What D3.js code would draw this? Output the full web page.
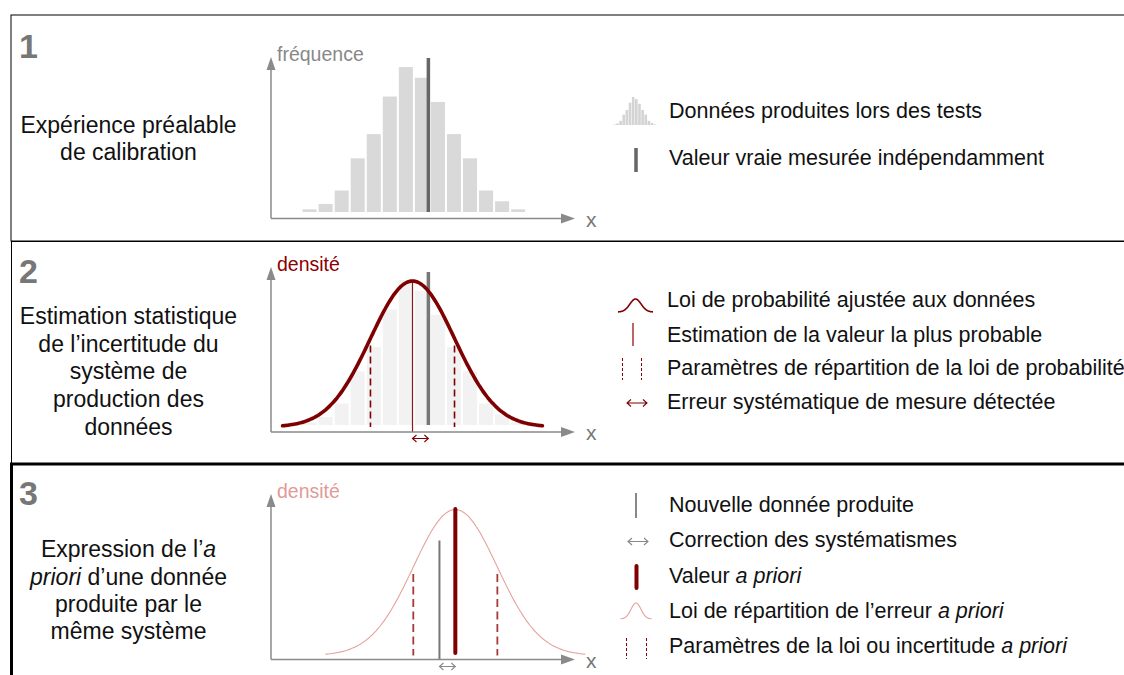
<!DOCTYPE html>
<html>
<head>
<meta charset="utf-8">
<script src="https://cdn.jsdelivr.net/npm/d3@7"></script>
<style>
  body { margin: 0; background: #fff; }
  svg { display: block; font-family: "Liberation Sans", Arial, sans-serif; }
</style>
</head>
<body>
<div id="chart"></div>
<script>
// histogram of the calibration tests (frequency per bin)
const binCounts = [1, 3, 8, 20, 29, 43, 54, 50, 41, 29, 20, 8, 4, 1];
// values on the x axis (bin units)
const trueValue = 7.86;      // valeur vraie mesurée indépendamment
const fitMean = 6.87;        // estimation de la valeur la plus probable
const fitSigma = 2.62;       // paramètre de répartition
const newValue = 8.55;       // nouvelle donnée produite
const curveSpan = 8.1;       // half width of the drawn curve

const panelNumbers = ["1", "2", "3"];
const panelTexts = [
  [["Expérience préalable"], ["de calibration"]],
  [["Estimation statistique"], ["de l\u2019incertitude du"], ["système de"], ["production des"], ["données"]],
  [["Expression de l\u2019", "a"], ["priori", " d\u2019une donnée"], ["produite par le"], ["même système"]]
];
const axisLabels = ["fréquence", "densité", "densité"];
const legend1 = [["Données produites lors des tests"], ["Valeur vraie mesurée indépendamment"]];
const legend2 = [["Loi de probabilité ajustée aux données"], ["Estimation de la valeur la plus probable"],
                 ["Paramètres de répartition de la loi de probabilité"], ["Erreur systématique de mesure détectée"]];
const legend3 = [["Nouvelle donnée produite"], ["Correction des systématismes"], ["Valeur ", "a priori"],
                 ["Loi de répartition de l\u2019erreur ", "a priori"], ["Paramètres de la loi ou incertitude ", "a priori"]];

const W = 1124, H = 675;
const svg = d3.select("#chart").append("svg").attr("width", W).attr("height", H);
svg.append("rect").attr("width", W).attr("height", H).attr("fill", "#fff");

const DARK = "#7f0000", LIGHT = "#e6a29c", AXIS = "#8a8a8a";
const correctedValue = newValue + (trueValue - fitMean);
const pdf = v => Math.exp(-0.5 * Math.pow(v / fitSigma, 2));

// panel frames
svg.append("rect").attr("x", 11).attr("y", 15).attr("width", 1200).attr("height", 226)
  .attr("fill", "none").attr("stroke", "#000").attr("stroke-width", 1);
svg.append("rect").attr("x", 11.5).attr("y", 241.5).attr("width", 1200).attr("height", 222)
  .attr("fill", "none").attr("stroke", "#000").attr("stroke-width", 1);
svg.append("rect").attr("x", 11.5).attr("y", 464).attr("width", 1200).attr("height", 300)
  .attr("fill", "none").attr("stroke", "#000").attr("stroke-width", 3);

// numbers and left texts
const numY = [58, 283, 505];
const textY = [[133, 160], [324, 352, 379, 407, 435], [557, 585, 612, 639]];
panelNumbers.forEach((n, i) => {
  svg.append("text").attr("x", 19).attr("y", numY[i]).text(n)
    .attr("font-size", 34).attr("font-weight", "bold").attr("fill", "#777");
  panelTexts[i].forEach((line, j) => {
    const t = svg.append("text").attr("x", 128.5).attr("y", textY[i][j])
      .attr("text-anchor", "middle").attr("font-size", 23).attr("fill", "#111");
    line.forEach((part, k) => {
      const italic = (i === 2 && ((j === 0 && k === 1) || (j === 1 && k === 0)));
      t.append("tspan").text(part).attr("font-style", italic ? "italic" : "normal");
    });
  });
});

// shared x scale
const x = d3.scaleLinear().domain([-1.95, 17]).range([271, 575]);

function drawAxes(axisY, tipY, label, labelColor) {
  const g = svg.append("g");
  g.append("line").attr("x1", x(-1.95)).attr("x2", x(17) - 10).attr("y1", axisY).attr("y2", axisY)
    .attr("stroke", AXIS).attr("stroke-width", 1.5);
  g.append("line").attr("x1", x(-1.95)).attr("x2", x(-1.95)).attr("y1", axisY).attr("y2", tipY + 10)
    .attr("stroke", AXIS).attr("stroke-width", 1.5);
  g.append("path").attr("fill", AXIS)
    .attr("d", `M${x(17)},${axisY} L${x(17) - 14},${axisY - 5} L${x(17) - 14},${axisY + 5} Z`);
  g.append("path").attr("fill", AXIS)
    .attr("d", `M${x(-1.95)},${tipY} L${x(-1.95) - 4.5},${tipY + 13} L${x(-1.95) + 4.5},${tipY + 13} Z`);
  g.append("text").attr("x", x(17) + 11).attr("y", axisY + 8).text("x")
    .attr("font-size", 21).attr("fill", "#777");
  g.append("text").attr("x", x(-1.95) + 6).attr("y", tipY + 4).text(label)
    .attr("font-size", 19.5).attr("fill", labelColor);
}

function dblArrow(g, x1, x2, yy, color) {
  g.append("path").attr("fill", "none").attr("stroke", color).attr("stroke-width", 1.1)
    .attr("d", `M${x1},${yy} L${x2},${yy} M${x1 + 4},${yy - 3.5} L${x1},${yy} L${x1 + 4},${yy + 3.5}` +
               ` M${x2 - 4},${yy - 3.5} L${x2},${yy} L${x2 - 4},${yy + 3.5}`);
}

function curvePath(mean, xs, ys) {
  const pts = d3.range(-curveSpan, curveSpan + 0.001, 0.1).map(d => [mean + d, pdf(d)]);
  return d3.line().x(d => xs(d[0])).y(d => ys(d[1])).curve(d3.curveBasis)(pts);
}

// ---------- panel 1 ----------
{
  const y = d3.scaleLinear().domain([0, 54]).range([212, 67]);
  const g = svg.append("g");
  g.selectAll("rect").data(binCounts).enter().append("rect")
    .attr("x", (d, i) => x(i) + 0.3).attr("width", x(1) - x(0) - 2)
    .attr("y", d => y(d)).attr("height", d => y(0) - y(d)).attr("fill", "#d9d9d9");
  g.append("line").attr("x1", x(trueValue)).attr("x2", x(trueValue)).attr("y1", 58).attr("y2", y(0))
    .attr("stroke", "#666").attr("stroke-width", 3.5);
  drawAxes(218.5, 57, axisLabels[0], "#888");
}

// ---------- panel 2 ----------
{
  const yb = d3.scaleLinear().domain([0, 54]).range([425, 280]);
  const yd = d3.scaleLinear().domain([0, 1]).range([427, 281]);
  const g = svg.append("g");
  g.selectAll("rect").data(binCounts).enter().append("rect")
    .attr("x", (d, i) => x(i) + 0.3).attr("width", x(1) - x(0) - 2)
    .attr("y", d => yb(d)).attr("height", d => yb(0) - yb(d)).attr("fill", "#f2f2f2");
  [fitMean - fitSigma, fitMean + fitSigma].forEach(v => {
    g.append("line").attr("x1", x(v)).attr("x2", x(v)).attr("y1", yd(pdf(fitSigma)) + 7).attr("y2", yd(0))
      .attr("stroke", DARK).attr("stroke-width", 1.6).attr("stroke-dasharray", "7,4");
  });
  g.append("line").attr("x1", x(fitMean)).attr("x2", x(fitMean)).attr("y1", yd(1)).attr("y2", 432)
    .attr("stroke", "#8b1a1a").attr("stroke-width", 1.2);
  g.append("line").attr("x1", x(trueValue)).attr("x2", x(trueValue)).attr("y1", 272).attr("y2", 425)
    .attr("stroke", "#777").attr("stroke-width", 3.5);
  g.append("path").attr("d", curvePath(fitMean, x, yd)).attr("fill", "none")
    .attr("stroke", DARK).attr("stroke-width", 3.6).attr("stroke-linecap", "round");
  dblArrow(g, x(fitMean), x(trueValue), 438.5, DARK);
  drawAxes(432, 267, axisLabels[1], "#8b0000");
}

// ---------- panel 3 ----------
{
  const yd = d3.scaleLinear().domain([0, 1]).range([655.5, 509.5]);
  const g = svg.append("g");
  g.append("path").attr("d", curvePath(correctedValue, x, yd)).attr("fill", "none")
    .attr("stroke", LIGHT).attr("stroke-width", 1.1);
  [correctedValue - fitSigma, correctedValue + fitSigma].forEach(v => {
    g.append("line").attr("x1", x(v)).attr("x2", x(v)).attr("y1", yd(pdf(fitSigma)) + 7).attr("y2", yd(0))
      .attr("stroke", "#a83a3a").attr("stroke-width", 1.8).attr("stroke-dasharray", "8,4.5");
  });
  g.append("line").attr("x1", x(newValue)).attr("x2", x(newValue)).attr("y1", 540.5).attr("y2", 659)
    .attr("stroke", "#777").attr("stroke-width", 2);
  g.append("line").attr("x1", x(correctedValue)).attr("x2", x(correctedValue)).attr("y1", 509).attr("y2", 653)
    .attr("stroke", DARK).attr("stroke-width", 4).attr("stroke-linecap", "round");
  dblArrow(g, x(newValue), x(correctedValue), 666.5, "#888");
  drawAxes(659.5, 494, axisLabels[2], "#e29a98");
}

// ---------- legends ----------
function legendText(line, tx, ty) {
  const t = svg.append("text").attr("x", tx).attr("y", ty).attr("font-size", 21.5).attr("fill", "#111");
  line.forEach((part, k) => t.append("tspan").text(part).attr("font-style", k === 1 ? "italic" : "normal"));
}

// legend 1
{
  const lx = d3.scaleLinear().domain([0, 14]).range([613, 657]);
  const ly = d3.scaleLinear().domain([0, 54]).range([125, 97]);
  svg.append("g").selectAll("rect").data(binCounts).enter().append("rect")
    .attr("x", (d, i) => lx(i)).attr("width", lx(1) - lx(0) - 0.5)
    .attr("y", d => ly(d)).attr("height", d => ly(0) - ly(d)).attr("fill", "#d4d4d4");
  svg.append("line").attr("x1", 636).attr("x2", 636).attr("y1", 148).attr("y2", 172)
    .attr("stroke", "#666").attr("stroke-width", 3.5);
  [118, 165].forEach((ty, i) => legendText(legend1[i], 669, ty));
}

// legend 2
{
  const lx = d3.scaleLinear().domain([fitMean - curveSpan, fitMean + curveSpan]).range([618, 653]);
  const ly = d3.scaleLinear().domain([0, 1]).range([312, 299]);
  svg.append("path").attr("d", curvePath(fitMean, lx, ly)).attr("fill", "none")
    .attr("stroke", DARK).attr("stroke-width", 1.6);
  svg.append("line").attr("x1", 633).attr("x2", 633).attr("y1", 323).attr("y2", 346)
    .attr("stroke", "#a83030").attr("stroke-width", 1.5);
  [622.5, 641.5].forEach(px => svg.append("line").attr("x1", px).attr("x2", px).attr("y1", 358).attr("y2", 380)
    .attr("stroke", "#8b0000").attr("stroke-width", 1).attr("stroke-dasharray", "3,2"));
  dblArrow(svg, 627, 647, 403, DARK);
  [307, 342, 375, 409].forEach((ty, i) => legendText(legend2[i], 667, ty));
}

// legend 3
{
  svg.append("line").attr("x1", 636).attr("x2", 636).attr("y1", 493).attr("y2", 518)
    .attr("stroke", "#888").attr("stroke-width", 2);
  dblArrow(svg, 628, 648, 541.5, "#888");
  svg.append("line").attr("x1", 636.5).attr("x2", 636.5).attr("y1", 566).attr("y2", 588)
    .attr("stroke", DARK).attr("stroke-width", 4).attr("stroke-linecap", "round");
  const lx = d3.scaleLinear().domain([correctedValue - curveSpan, correctedValue + curveSpan]).range([620.5, 651.5]);
  const ly = d3.scaleLinear().domain([0, 1]).range([619, 603]);
  svg.append("path").attr("d", curvePath(correctedValue, lx, ly)).attr("fill", "none")
    .attr("stroke", LIGHT).attr("stroke-width", 1.1);
  [626.5, 646.5].forEach(px => svg.append("line").attr("x1", px).attr("x2", px).attr("y1", 638).attr("y2", 659)
    .attr("stroke", "#8b0000").attr("stroke-width", 1).attr("stroke-dasharray", "3,2"));
  [512, 547, 583, 618, 653].forEach((ty, i) => legendText(legend3[i], 669, ty));
}
</script>
</body>
</html>
